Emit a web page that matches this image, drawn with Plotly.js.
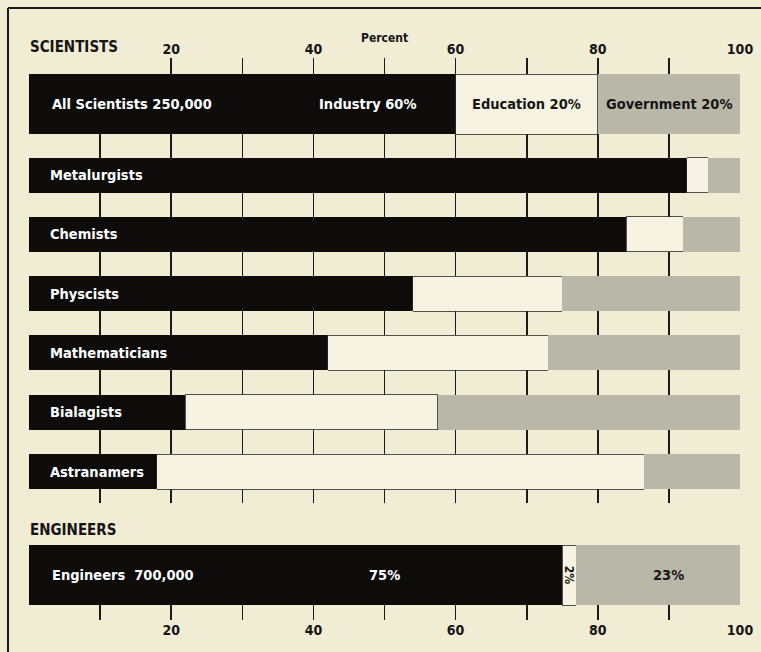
<!DOCTYPE html>
<html>
<head>
<meta charset="utf-8">
<script src="https://cdn.plot.ly/plotly-3.0.1.min.js"></script>
<style>
  html, body { margin: 0; padding: 0; background: #f1edd4; }
  #chart { width: 761px; height: 652px; }
</style>
</head>
<body>
<div id="chart"></div>
<script>
// ---- data ----
const categories = ['All Scientists', 'Metalurgists', 'Chemists', 'Physcists', 'Mathematicians', 'Bialagists', 'Astranamers'];
const industry   = [60, 92.5, 84, 54, 42, 22, 18];
const education  = [20, 3, 8, 21, 31, 35.5, 68.5];
const government = [20, 4.5, 8, 25, 27, 42.5, 13.5];

const engCategories = ['Engineers'];
const engIndustry   = [75];
const engEducation  = [2];
const engGovernment = [23];

const scientistsTotal = '250,000';
const engineersTotal  = '700,000';

const tickVals = [20, 40, 60, 80, 100];
const tickText = ['20', '40', '60', '80', '100'];
const gridVals = [10, 20, 30, 40, 50, 60, 70, 80, 90];

// ---- styling ----
const BG = '#f1edd4';
const BLACK = '#0d0c0b';
const EDU = '#f6f3e2';
const GOV = '#b9b7a7';
const INK = '#161514';
const FONT = "'Liberation Sans Narrow', 'DejaVu Sans Condensed', 'Roboto Condensed', 'DejaVu Sans', sans-serif";

const W = 761, H = 652;
const ML = 29, MR = 21, MT = 58, MB = 32;
const plotH = H - MT - MB;
const topDomain = [(H - MB - 503) / plotH, 1];
const botDomain = [0, (H - MB - 545) / plotH];

const widths  = categories.map((c, i) => i === 0 ? 1.012 : 0.59);
const offsets = categories.map((c, i) => i === 0 ? -0.703 : -0.295);
const firstShift = 12; // vertical centre of the thicker first bar

function barTrace(x, y, color, xa, ya, w, o, line) {
  const t = {
    type: 'bar', orientation: 'h', x: x, y: y,
    xaxis: xa, yaxis: ya,
    marker: { color: color, line: line || { width: 0 } },
    hoverinfo: 'skip', showlegend: false
  };
  if (w) t.width = w;
  if (o) t.offset = o;
  return t;
}

const eduLine = { color: '#2a2926', width: 0.8 };
const data = [
  barTrace(industry, categories, BLACK, 'x', 'y', widths, offsets),
  barTrace(education, categories, EDU, 'x', 'y', widths, offsets, eduLine),
  barTrace(government, categories, GOV, 'x', 'y', widths, offsets),
  barTrace(engIndustry, engCategories, BLACK, 'x2', 'y2', [0.8]),
  barTrace(engEducation, engCategories, EDU, 'x2', 'y2', [0.8], null, eduLine),
  barTrace(engGovernment, engCategories, GOV, 'x2', 'y2', [0.8]),
  // carriers for the label-only axes
  { type: 'scatter', x: [], y: [], xaxis: 'x3', yaxis: 'y', hoverinfo: 'skip', showlegend: false },
  { type: 'scatter', x: [], y: [], xaxis: 'x4', yaxis: 'y2', hoverinfo: 'skip', showlegend: false }
];

const gridAxis = {
  range: [0, 100], domain: [0, 1], fixedrange: true,
  tickmode: 'array', tickvals: gridVals, showticklabels: false, ticks: '',
  showgrid: true, gridcolor: '#1c1b19', gridwidth: 1.6,
  zeroline: false, showline: false
};
const labelAxis = {
  range: [0, 100], fixedrange: true,
  tickmode: 'array', tickvals: tickVals, ticktext: tickText, ticks: '',
  showgrid: false, zeroline: false, showline: false,
  tickfont: { family: FONT, size: 14, color: INK, weight: 'bold' }
};

const annotations = [];
const whiteFont = { family: FONT, size: 14.5, color: '#ffffff', weight: 'bold' };
const darkFont  = { family: FONT, size: 14.5, color: INK, weight: 'bold' };

categories.forEach((c, i) => {
  const label = i === 0 ? c + ' ' + scientistsTotal : c;
  annotations.push({
    xref: 'x', yref: 'y', x: 0, y: c, xanchor: 'left', yanchor: 'middle',
    xshift: i === 0 ? 21 : 19, yshift: i === 0 ? firstShift : 0,
    text: label, showarrow: false, font: whiteFont
  });
});
annotations.push({
  xref: 'x', yref: 'y', x: industry[0], y: categories[0], xanchor: 'right', yanchor: 'middle',
  xshift: -38, yshift: firstShift, text: 'Industry ' + industry[0] + '%', showarrow: false, font: whiteFont
});
annotations.push({
  xref: 'x', yref: 'y', x: industry[0] + education[0] / 2, y: categories[0], xanchor: 'center',
  yshift: firstShift, text: 'Education ' + education[0] + '%', showarrow: false, font: darkFont
});
annotations.push({
  xref: 'x', yref: 'y', x: industry[0] + education[0] + government[0] / 2, y: categories[0], xanchor: 'center',
  yshift: firstShift, text: 'Government ' + government[0] + '%', showarrow: false, font: darkFont
});
annotations.push({
  xref: 'x2', yref: 'y2', x: 0, y: engCategories[0], xanchor: 'left', yanchor: 'middle',
  xshift: 21, text: engCategories[0] + '\u00a0\u00a0' + engineersTotal, showarrow: false, font: whiteFont
});
annotations.push({
  xref: 'x2', yref: 'y2', x: engIndustry[0] / 2, y: engCategories[0], xanchor: 'center',
  xshift: 89, text: engIndustry[0] + '%', showarrow: false, font: whiteFont
});
annotations.push({
  xref: 'x2', yref: 'y2', x: engIndustry[0] + engEducation[0] / 2, y: engCategories[0], xanchor: 'center',
  text: engEducation[0] + '%', textangle: 90, showarrow: false,
  font: { family: FONT, size: 12, color: INK, weight: 'bold' }
});
annotations.push({
  xref: 'x2', yref: 'y2', x: engIndustry[0] + engEducation[0] + engGovernment[0] / 2, y: engCategories[0],
  xanchor: 'center', xshift: 10, text: engGovernment[0] + '%', showarrow: false, font: darkFont
});
annotations.push({
  xref: 'paper', yref: 'paper', x: 0, y: 1, xanchor: 'left', yanchor: 'middle', xshift: -1, yshift: 11,
  text: 'SCIENTISTS', showarrow: false, font: { family: FONT, size: 15, color: INK, weight: 'bold' }
});
annotations.push({
  xref: 'paper', yref: 'paper', x: 0, y: botDomain[1], xanchor: 'left', yanchor: 'middle', xshift: -1, yshift: 15,
  text: 'ENGINEERS', showarrow: false, font: { family: FONT, size: 15, color: INK, weight: 'bold' }
});
annotations.push({
  xref: 'x', yref: 'paper', x: 50, y: 1, xanchor: 'center', yanchor: 'middle', yshift: 20,
  text: 'Percent', showarrow: false, font: { family: FONT, size: 12, color: INK, weight: 'bold' }
});

const pxX = px => (px - ML) / (W - ML - MR);
const pxY = py => (H - MB - py) / plotH;

const shapes = [
  // frame lines
  { type: 'line', xref: 'paper', yref: 'paper', x0: pxX(8), x1: pxX(761), y0: pxY(8), y1: pxY(8),
    line: { color: '#1c1b19', width: 2 } },
  { type: 'line', xref: 'paper', yref: 'paper', x0: pxX(8), x1: pxX(8), y0: pxY(8), y1: pxY(652),
    line: { color: '#1c1b19', width: 2 } },
  // no tick at 10 above the first bar
  { type: 'rect', xref: 'x', yref: 'paper', x0: 7, x1: 13, y0: pxY(74), y1: 1.01,
    fillcolor: BG, line: { width: 0 }, layer: 'above' }
];

const layout = {
  width: W, height: H,
  margin: { l: ML, r: MR, t: MT, b: MB, pad: 0 },
  paper_bgcolor: BG, plot_bgcolor: BG,
  barmode: 'stack',
  showlegend: false, hovermode: false,
  xaxis: Object.assign({}, gridAxis, { anchor: 'y' }),
  xaxis2: Object.assign({}, gridAxis, { anchor: 'y2', matches: 'x' }),
  xaxis3: Object.assign({}, labelAxis, { overlaying: 'x', side: 'top', anchor: 'y' }),
  xaxis4: Object.assign({}, labelAxis, { overlaying: 'x2', side: 'bottom', anchor: 'y2' }),
  yaxis: {
    domain: topDomain, type: 'category', categoryorder: 'array', categoryarray: categories,
    range: [6.531, -0.973], showticklabels: false, showgrid: false, zeroline: false, ticks: '', fixedrange: true
  },
  yaxis2: {
    domain: botDomain, type: 'category', range: [0.6, -0.4],
    showticklabels: false, showgrid: false, zeroline: false, ticks: '', fixedrange: true
  },
  annotations: annotations,
  shapes: shapes
};

Plotly.newPlot('chart', data, layout, { staticPlot: true, displayModeBar: false });
</script>
</body>
</html>
